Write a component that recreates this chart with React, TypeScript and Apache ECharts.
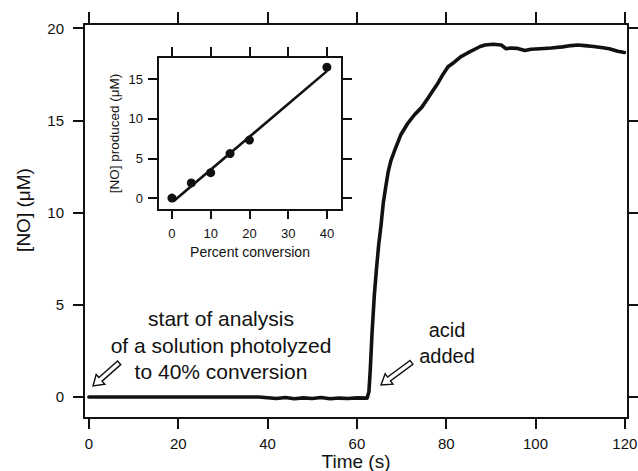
import React, { useEffect, useRef } from "react";
import * as echarts from "echarts";

// Main trace: [time (s), [NO] (µM)]
const traceTime = [0, 10, 20, 30, 38, 40, 42, 44, 46, 48, 50, 52, 54, 56, 58, 60, 62.3, 62.7, 63.0, 63.4, 63.9, 64.4, 64.9, 65.4, 65.9, 66.4, 67.0, 67.6, 68.5, 69.8, 71.3, 72.9, 74.5, 75.9, 77.0, 78.1, 79.3, 80.4, 81.8, 83.3, 84.8, 86.4, 87.6, 88.7, 90.5, 92.3, 93.4, 94.5, 95.8, 97.6, 99, 101, 103.5, 106, 108, 109.5, 111, 113, 114.7, 116.5, 118.4, 119.9];
const traceNO = [0, 0, 0, 0, 0, -0.04, -0.08, -0.03, -0.1, -0.05, -0.08, -0.03, -0.1, -0.06, -0.08, -0.05, -0.06, 0.3, 1.5, 3.5, 5.5, 7.0, 8.3, 9.3, 10.5, 11.3, 12.2, 12.8, 13.4, 14.2, 14.8, 15.3, 15.7, 16.2, 16.6, 17.0, 17.5, 17.9, 18.15, 18.45, 18.65, 18.85, 19.0, 19.08, 19.12, 19.08, 18.88, 18.92, 18.9, 18.78, 18.85, 18.88, 18.92, 18.98, 19.05, 19.08, 19.05, 19.0, 18.95, 18.88, 18.74, 18.68];

// Inset: measured points and fitted line
const insetConversion = [0, 5, 10, 15, 20, 40];
const insetNO = [0, 1.9, 3.2, 5.6, 7.3, 16.5];
const fitConversion = [0.4, 40];
const fitNO = [-0.4, 16.0];

const mainXTicks = [0, 20, 40, 60, 80, 100, 120];
const mainYTicks = [0, 5, 10, 15, 20];
const insetXTicks = [0, 10, 20, 30, 40];
const insetYTicks = [0, 5, 10, 15];

const annotationStart = ["start of analysis", "of a solution photolyzed", "to 40% conversion"];
const annotationAcid = ["acid", "added"];

const FONT = "'Liberation Sans', Arial, Helvetica, sans-serif";
const INK = "#111";

function axis(opts: any) {
  const { gridIndex, position, min, max, ticks, labels, tickLen, labelSize, margin, name, nameGap, nameSize, namePadding } = opts;
  return {
    type: "value",
    gridIndex,
    position,
    min,
    max,
    name: name || "",
    nameLocation: "middle",
    nameGap: nameGap || 0,
    nameMoveOverlap: false,
    nameTextStyle: { fontFamily: FONT, fontSize: nameSize || 12, color: INK, padding: namePadding || 0 },
    splitLine: { show: false },
    axisLine: { show: true, onZero: false, lineStyle: { color: INK, width: 2 } },
    axisTick: { show: true, inside: false, length: tickLen, customValues: ticks, lineStyle: { color: INK, width: 2 } },
    axisLabel: labels
      ? { show: true, customValues: ticks, fontFamily: FONT, fontSize: labelSize, color: INK, margin }
      : { show: false },
  };
}

function arrow(x: number, y: number, len: number, rot: number) {
  return {
    type: "polygon",
    x,
    y,
    rotation: rot,
    z: 100,
    shape: {
      points: [[0, 0], [10, -6.5], [10, -2.4], [len, -2.4], [len, 2.4], [10, 2.4], [10, 6.5]],
    },
    style: { fill: "#fff", stroke: INK, lineWidth: 1.4 },
  };
}

export default function App() {
  const ref = useRef<HTMLDivElement>(null);
  useEffect(() => {
    if (!ref.current) return;
    const chart = echarts.init(ref.current, undefined, { renderer: "svg" });
    const trace = traceTime.map((t, i) => [t, traceNO[i]]);
    const pts = insetConversion.map((c, i) => [c, insetNO[i]]);
    const fit = fitConversion.map((c, i) => [c, fitNO[i]]);
    const option: any = {
      animation: false,
      backgroundColor: "#fff",
      grid: [
        { left: 84, top: 24, width: 544, height: 394, containLabel: false, outerBoundsMode: "none" },
        { left: 158, top: 57, width: 184, height: 153, containLabel: false, outerBoundsMode: "none" },
      ],
      xAxis: [
        axis({ gridIndex: 0, position: "bottom", min: -1.1, max: 120.7, ticks: mainXTicks, labels: true, tickLen: 11, labelSize: 15, margin: 18, name: "Time (s)", nameGap: 34, nameSize: 19 }),
        axis({ gridIndex: 0, position: "top", min: -1.1, max: 120.7, ticks: mainXTicks, labels: false, tickLen: 12 }),
        axis({ gridIndex: 1, position: "bottom", min: -3.6, max: 43.9, ticks: insetXTicks, labels: true, tickLen: 9, labelSize: 13, margin: 17, name: "Percent conversion", nameGap: 35, nameSize: 14 }),
        axis({ gridIndex: 1, position: "top", min: -3.6, max: 43.9, ticks: insetXTicks, labels: false, tickLen: 10 }),
      ],
      yAxis: [
        axis({ gridIndex: 0, position: "left", min: -1.14, max: 20.22, ticks: mainYTicks, labels: true, tickLen: 11, labelSize: 15, margin: 20, name: "[NO] (μM)", nameGap: 51, nameSize: 19, namePadding: [0, 0, 0, 22] }),
        axis({ gridIndex: 0, position: "right", min: -1.14, max: 20.22, ticks: mainYTicks, labels: false, tickLen: 10 }),
        axis({ gridIndex: 1, position: "left", min: -1.51, max: 17.78, ticks: insetYTicks, labels: true, tickLen: 10, labelSize: 13, margin: 15, name: "[NO] produced (μM)", nameGap: 37, nameSize: 13.5 }),
        axis({ gridIndex: 1, position: "right", min: -1.51, max: 17.78, ticks: insetYTicks, labels: false, tickLen: 10 }),
      ],
      series: [
        {
          type: "line",
          xAxisIndex: 0,
          yAxisIndex: 0,
          data: trace,
          showSymbol: false,
          symbol: "none",
          lineStyle: { color: INK, width: 3.6, cap: "round", join: "round" },
        },
        {
          type: "line",
          xAxisIndex: 2,
          yAxisIndex: 2,
          data: fit,
          showSymbol: false,
          symbol: "none",
          lineStyle: { color: INK, width: 2.6 },
        },
        {
          type: "scatter",
          xAxisIndex: 2,
          yAxisIndex: 2,
          data: pts,
          symbol: "circle",
          symbolSize: 9,
          itemStyle: { color: INK, opacity: 1 },
        },
      ],
      graphic: [
        ...annotationStart.map((s, i) => ({
          type: "text",
          x: 221,
          y: 318.5 + i * 26.5,
          z: 100,
          style: { text: s, fontFamily: FONT, fontSize: 21, fill: INK, align: "center", verticalAlign: "middle" },
        })),
        ...annotationAcid.map((s, i) => ({
          type: "text",
          x: 447,
          y: 330 + i * 26,
          z: 100,
          style: { text: s, fontFamily: FONT, fontSize: 20, fill: INK, align: "center", verticalAlign: "middle" },
        })),
        arrow(93, 386, 35, 0.725),
        arrow(381, 385, 38, 0.64),
      ],
    };
    chart.setOption(option);
    return () => chart.dispose();
  }, []);
  return <div ref={ref} style={{ position: "fixed", left: 0, top: 0, width: 638, height: 471 }} />;
}
